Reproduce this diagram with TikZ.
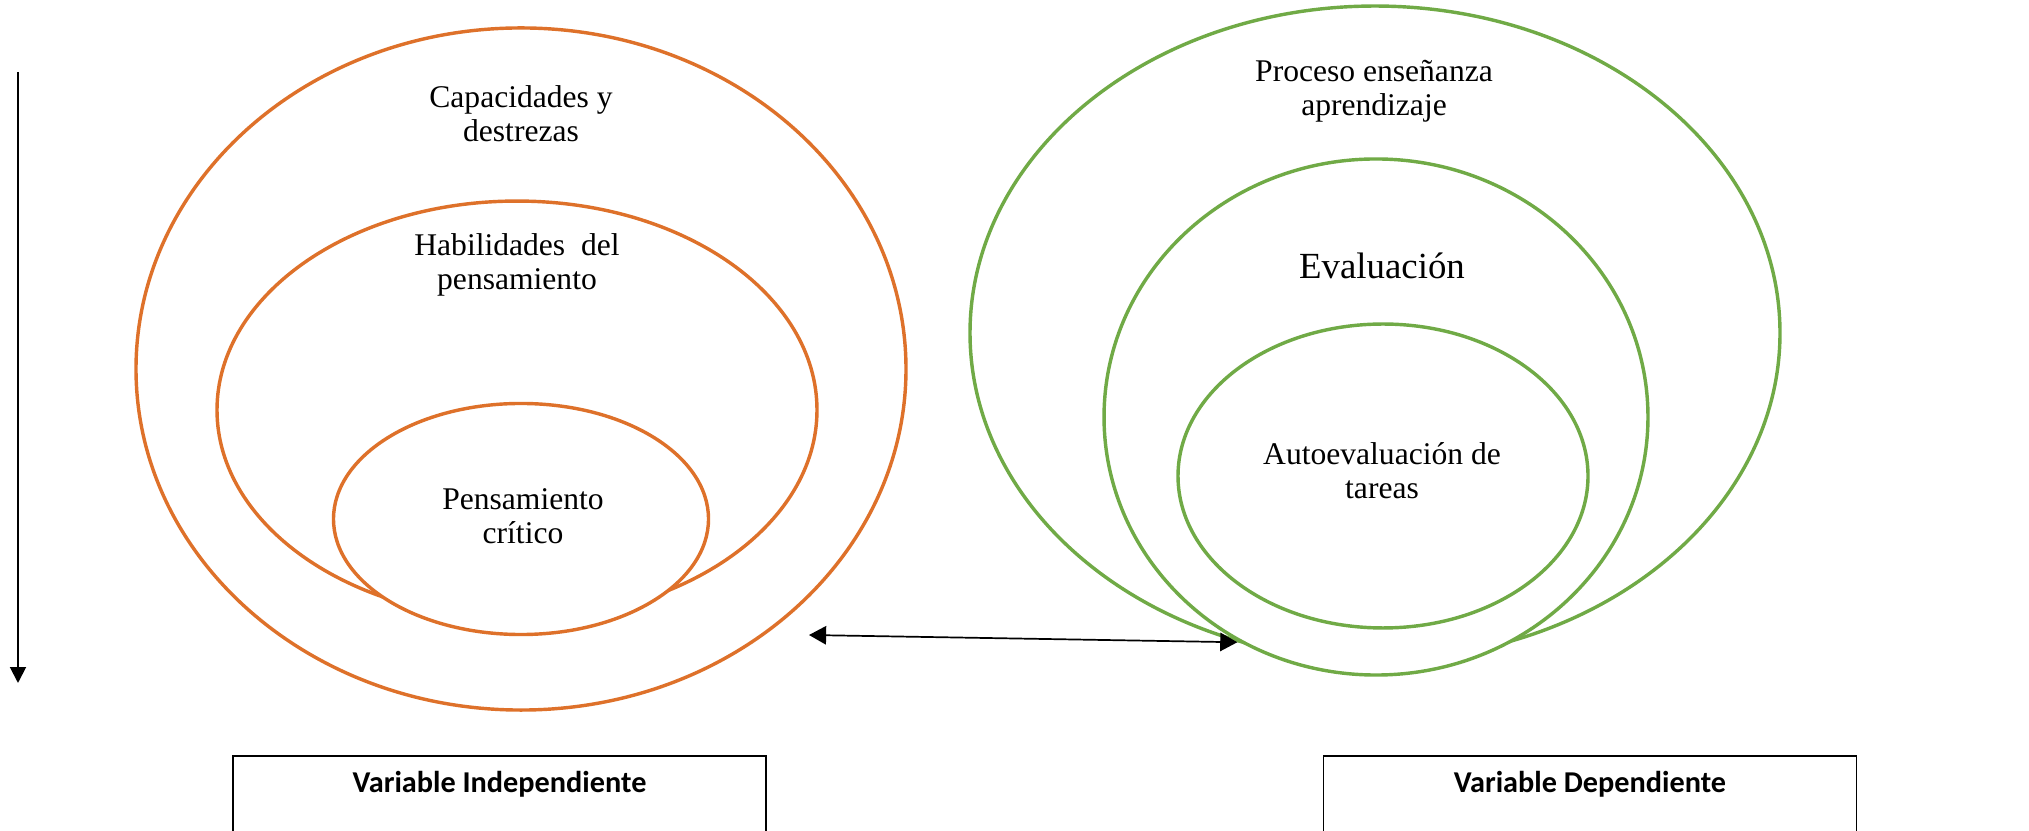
\documentclass[tikz,border=0pt]{standalone}
\usepackage{fontspec}
\setmainfont{Liberation Serif}
\newfontfamily\boxfont{Carlito}
\usetikzlibrary{shapes.geometric,arrows.meta}
\definecolor{setorange}{RGB}{222,113,42}
\definecolor{setgreen}{RGB}{112,170,70}

\begin{document}
\begin{tikzpicture}[x=0.38pt,y=-0.38pt,
    set/.style = {ellipse,
        draw,
        fill=white,
        line width=1.3pt,
        inner sep=0pt},
    orangeset/.style = {set, draw=setorange},
    greenset/.style = {set, draw=setgreen},
    lbl/.style = {align=center, font=\fontsize{12}{13}\selectfont},
    varbox/.style = {draw, line width=0.6pt, anchor=north,
        minimum width=202.5pt, inner ysep=0pt,
        text height=14pt, text depth=40pt,
        font=\boxfont\bfseries\fontsize{11.5}{14}\selectfont},
    link/.style = {line width=0.65pt,
        {Triangle[length=6.5pt,width=7pt]}-{Triangle[length=6.5pt,width=7pt]}}]

\useasboundingbox (0,0) rectangle (2029,831);

% Flow arrow
\coordinate (flowtop) at (18,72);
\coordinate (flowend) at (18,683);
\draw[line width=0.75pt, -{Triangle[length=6pt,width=6pt]}] (flowtop) -- (flowend);

% Independent variable sets
\node[orangeset, minimum width=292.6pt, minimum height=259.2pt] (cap) at (521,369) {};
\node[orangeset, minimum width=228pt, minimum height=158.8pt] (hab) at (517,410) {};
\node[orangeset, minimum width=142.5pt, minimum height=87.8pt] (pen) at (521,519) {};

\node[lbl] (captext) at (521,114) {Capacidades y\\destrezas};
\node[lbl] (habtext) at (517,265) {Habilidades\ \ del\\pensamiento};
\node[lbl] (pentext) at (523,516) {Pensamiento\\crítico};

% Dependent variable sets
\node[greenset, minimum width=307.8pt, minimum height=248.5pt] (pro) at (1375,333) {};
\node[greenset, minimum width=206.7pt, minimum height=196.1pt] (eva) at (1376,417) {};
\node[greenset, minimum width=155.8pt, minimum height=115.5pt] (aut) at (1383,476) {};

\node[lbl] (protext) at (1374,91) {Proceso enseñanza\\aprendizaje};
\node[lbl, font=\fontsize{14}{16}\selectfont] (evatext) at (1382,266) {Evaluación};
\node[lbl] (auttext) at (1382,471) {Autoevaluación de\\tareas};

% Relation
\coordinate (linkstart) at (809,635);
\draw[link] (linkstart) -- (pro.246.8);

% Variable boxes
\node[varbox] (indep) at (499.5,755) {Variable Independiente};
\node[varbox] (dep) at (1590,755) {Variable Dependiente};
\end{tikzpicture}
\end{document}
